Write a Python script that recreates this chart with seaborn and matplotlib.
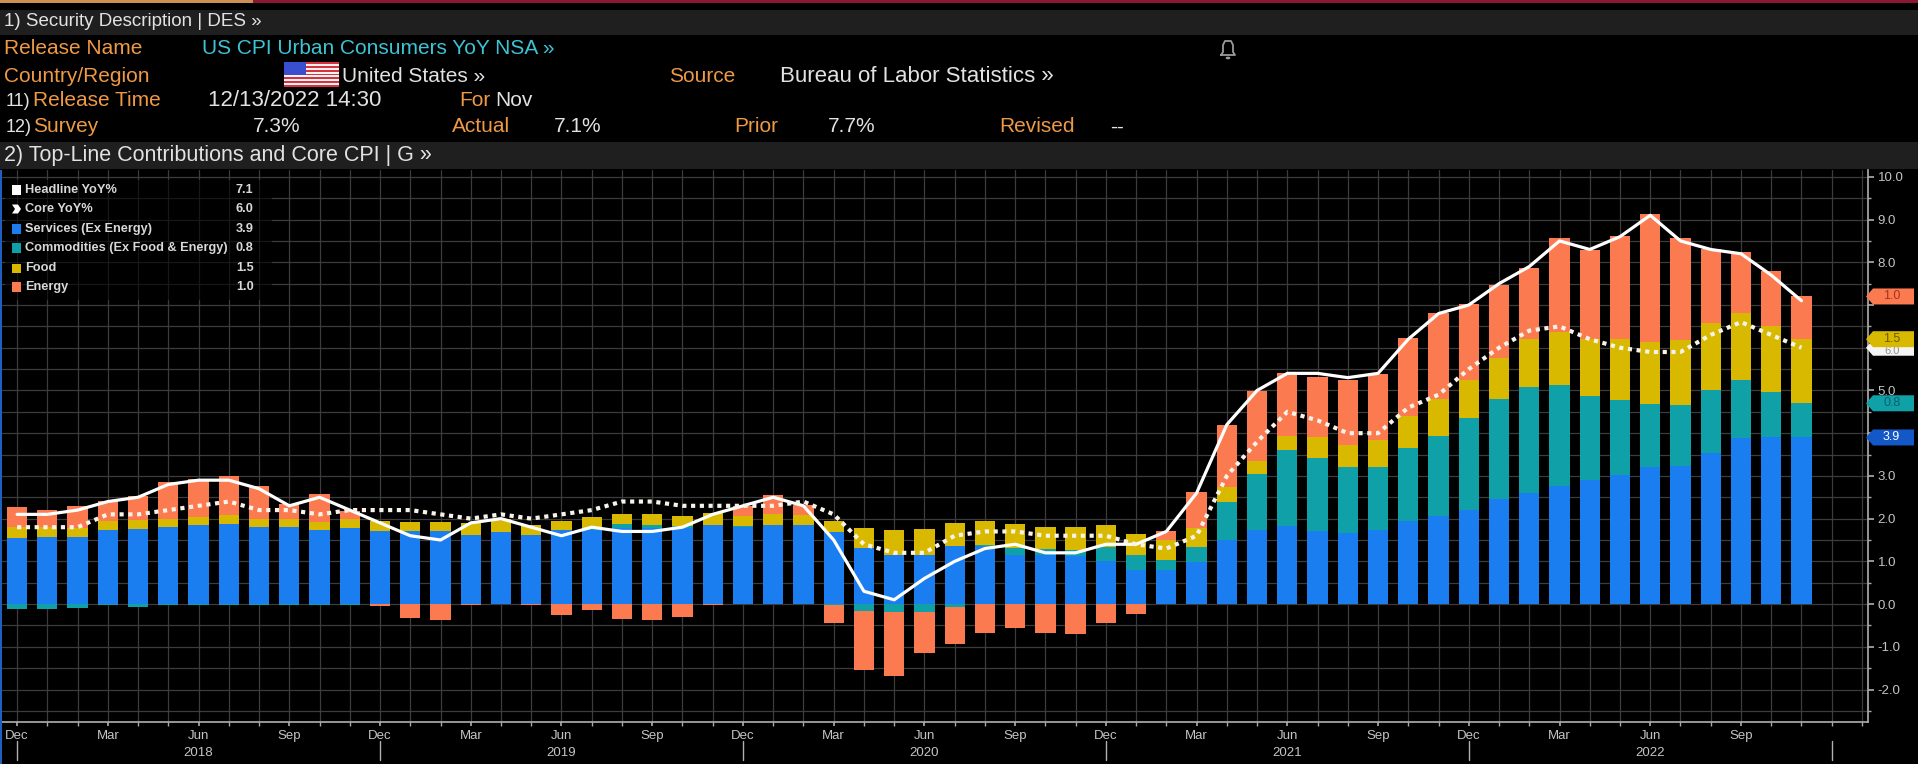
import numpy as np
import pandas as pd
import matplotlib.pyplot as plt
import seaborn as sns
from matplotlib.patches import Rectangle, Polygon, Circle
from matplotlib.lines import Line2D
from matplotlib.ticker import MultipleLocator, FixedLocator, FuncFormatter

W, H = 1918, 764

MONTHS = pd.date_range("2017-12-01", "2022-11-01", freq="MS")

# contributions to headline CPI YoY (pp)
SERVICES = [1.55, 1.57, 1.57, 1.73, 1.76, 1.80, 1.84, 1.88, 1.80, 1.80, 1.73, 1.78,
            1.70, 1.72, 1.72, 1.62, 1.68, 1.61, 1.73, 1.74, 1.78, 1.78, 1.78, 1.84,
            1.80, 1.84, 1.86, 1.68, 1.31, 1.16, 1.16, 1.35, 1.37, 1.16, 1.16, 1.12,
            1.00, 0.80, 0.80, 0.99, 1.50, 1.73, 1.83, 1.72, 1.66, 1.73, 1.95, 2.05,
            2.20, 2.45, 2.59, 2.77, 2.91, 3.02, 3.22, 3.23, 3.53, 3.88, 3.90, 3.90]
COMMODITIES = [-0.11, -0.11, -0.09, -0.02, -0.06, -0.03, -0.03, -0.02, -0.03, -0.03, -0.02, -0.01,
               0.00, 0.00, 0.00, 0.00, 0.00, 0.00, 0.00, 0.03, 0.10, 0.08, 0.05, 0.02,
               0.02, 0.00, 0.00, -0.02, -0.16, -0.18, -0.19, -0.08, 0.02, 0.16, 0.12, 0.15,
               0.34, 0.35, 0.23, 0.35, 0.88, 1.31, 1.77, 1.70, 1.56, 1.48, 1.70, 1.89,
               2.15, 2.34, 2.49, 2.35, 1.97, 1.76, 1.47, 1.43, 1.47, 1.37, 1.07, 0.80]
FOOD = [0.25, 0.23, 0.21, 0.21, 0.20, 0.20, 0.20, 0.21, 0.20, 0.20, 0.19, 0.20,
        0.25, 0.21, 0.21, 0.27, 0.27, 0.25, 0.22, 0.26, 0.22, 0.25, 0.22, 0.28,
        0.23, 0.26, 0.23, 0.26, 0.47, 0.57, 0.60, 0.55, 0.55, 0.56, 0.53, 0.53,
        0.50, 0.50, 0.47, 0.45, 0.36, 0.31, 0.33, 0.50, 0.50, 0.64, 0.76, 0.86,
        0.90, 0.98, 1.12, 1.24, 1.33, 1.42, 1.44, 1.52, 1.58, 1.56, 1.54, 1.50]
ENERGY = [0.47, 0.40, 0.52, 0.48, 0.57, 0.85, 0.89, 0.90, 0.76, 0.34, 0.65, 0.20,
          -0.04, -0.33, -0.37, -0.03, 0.05, -0.03, -0.25, -0.15, -0.35, -0.37, -0.30, -0.03,
          0.25, 0.45, 0.23, -0.43, -1.38, -1.50, -0.96, -0.86, -0.67, -0.55, -0.67, -0.70,
          -0.45, -0.23, 0.20, 0.84, 1.44, 1.64, 1.47, 1.40, 1.52, 1.53, 1.82, 2.02,
          1.78, 1.70, 1.66, 2.21, 2.08, 2.42, 2.99, 2.38, 1.72, 1.43, 1.29, 1.00]
HEADLINE = [2.1, 2.1, 2.2, 2.4, 2.5, 2.8, 2.9, 2.9, 2.7, 2.3, 2.5, 2.2,
            1.9, 1.6, 1.5, 1.9, 2.0, 1.8, 1.6, 1.8, 1.7, 1.7, 1.8, 2.1,
            2.3, 2.5, 2.3, 1.5, 0.3, 0.1, 0.6, 1.0, 1.3, 1.4, 1.2, 1.2,
            1.4, 1.4, 1.7, 2.6, 4.2, 5.0, 5.4, 5.4, 5.3, 5.4, 6.2, 6.8,
            7.0, 7.5, 7.9, 8.5, 8.3, 8.6, 9.1, 8.5, 8.3, 8.2, 7.7, 7.1]
CORE = [1.8, 1.8, 1.8, 2.1, 2.1, 2.2, 2.3, 2.4, 2.2, 2.2, 2.1, 2.2,
        2.2, 2.2, 2.1, 2.0, 2.1, 2.0, 2.1, 2.2, 2.4, 2.4, 2.3, 2.3,
        2.3, 2.3, 2.4, 2.1, 1.4, 1.2, 1.2, 1.6, 1.7, 1.7, 1.6, 1.6,
        1.6, 1.4, 1.3, 1.6, 3.0, 3.8, 4.5, 4.3, 4.0, 4.0, 4.6, 4.9,
        5.5, 6.0, 6.4, 6.5, 6.2, 6.0, 5.9, 5.9, 6.3, 6.6, 6.3, 6.0]

LEGEND_NAMES = ["Headline YoY%", "Core YoY%", "Services (Ex Energy)",
                "Commodities (Ex Food & Energy)", "Food", "Energy"]
LEGEND_VALUES = ["7.1", "6.0", "3.9", "0.8", "1.5", "1.0"]

BLUE = "#1a7ef0"
TEAL = "#10a0a8"
YELLOW = "#d8b900"
ORANGE = "#fb7a50"
AMBER = "#ee9a45"
CYAN = "#3cc3d4"
LIGHT = "#e2e2e2"
AXTXT = "#c4c4c4"
GRID = "#3c3c3c"

sns.set_theme(style="dark", rc={
    "figure.facecolor": "black",
    "axes.facecolor": "black",
    "axes.edgecolor": "#b0b0b0",
    "axes.axisbelow": True,
})
plt.rcParams["font.family"] = ["Liberation Sans", "DejaVu Sans"]

fig = plt.figure(figsize=(W / 100, H / 100), dpi=100)
fig.patch.set_facecolor("black")


def box(x0, y0, x1, y1, color, **kw):
    fig.add_artist(Rectangle((x0 / W, 1 - y1 / H), (x1 - x0) / W, (y1 - y0) / H,
                             transform=fig.transFigure, facecolor=color,
                             edgecolor="none", **kw))


def label(x, y, s, color=LIGHT, size=15, **kw):
    fig.text(x / W, 1 - y / H, s, color=color, fontsize=size, va="center", **kw)


# ---- Bloomberg-style header ----
box(0, 0, 253, 3, "#cf8e52")
box(253, 0, W, 3, "#8c1730")
box(0, 10, W, 35, "#1f1f1f")
box(0, 142, W, 169, "#1f1f1f")
label(4, 22, "1) Security Description | DES »", size=13.5)
label(4, 155, "2) Top-Line Contributions and Core CPI | G »", size=15.5)

label(4, 49, "Release Name", AMBER)
label(202, 49, "US CPI Urban Consumers YoY NSA »", CYAN)
label(4, 76, "Country/Region", AMBER)
label(342, 76, "United States »")
label(669, 76, "Source", AMBER)
label(780, 76, "Bureau of Labor Statistics »", size=16)
label(6, 101, "11)", size=13)
label(33, 101, "Release Time", AMBER)
label(208, 101, "12/13/2022 14:30", size=16)
label(459, 101, "For", AMBER)
label(495, 101, "Nov")
label(6, 127, "12)", size=13)
label(33, 127, "Survey", AMBER)
label(253, 127, "7.3%")
label(452, 127, "Actual", AMBER)
label(554, 127, "7.1%")
label(734, 127, "Prior", AMBER)
label(828, 127, "7.7%")
label(999, 127, "Revised", AMBER)
label(1110, 127, "--")

# US flag
for k in range(13):
    y0 = 62 + k * 25 / 13
    box(284, y0, 339, y0 + 25 / 13, "#d8303c" if k % 2 == 0 else "#f2f2f2")
box(284, 62, 306, 62 + 7 * 25 / 13, "#3a4fd0")

# bell icon
bell_x = np.array([1221, 1223, 1223, 1225, 1231, 1233, 1233, 1235, 1221]) / W
bell_y = 1 - np.array([55, 52, 45, 41, 41, 45, 52, 55, 55]) / H
fig.add_artist(Line2D(bell_x, bell_y, color="#9a9a9a", lw=1.3, transform=fig.transFigure))
fig.add_artist(Circle((1228 / W, 1 - 58 / H), 1.6 / W, color="#9a9a9a",
                      transform=fig.transFigure))

# left blue frame line
box(0, 170, 2, H, "#1f5fbf")

# ---- chart ----
ax = fig.add_axes([2 / W, 1 - 722 / H, 1866 / W, 552 / H])
ax.set_facecolor("black")

idx = np.arange(len(MONTHS))
df = pd.DataFrame({"idx": idx, "Services": SERVICES, "Commodities": COMMODITIES,
                   "Food": FOOD, "Energy": ENERGY, "Headline": HEADLINE, "Core": CORE})

pos_base = np.zeros(len(df))
neg_base = np.zeros(len(df))
for col, color in [("Services", BLUE), ("Commodities", TEAL), ("Food", YELLOW), ("Energy", ORANGE)]:
    vals = df[col].to_numpy()
    bottom = np.where(vals >= 0, pos_base, neg_base)
    sns.barplot(x=df["idx"], y=vals, bottom=bottom, native_scale=True, color=color,
                saturation=1, width=0.67, errorbar=None, linewidth=0, ax=ax)
    pos_base += np.clip(vals, 0, None)
    neg_base += np.clip(vals, None, 0)

sns.lineplot(x=df["idx"], y=df["Headline"], color="white", lw=2.3, ax=ax, zorder=4)
sns.lineplot(x=df["idx"], y=df["Core"], color="#f6f3ea", lw=3.0, ax=ax, zorder=4,
             linestyle=(0, (1.0, 1.1)))

ymin, ymax = -2.76, 10.16
ax.set_xlim(-0.5, 61.2)
ax.set_ylim(ymin, ymax)
ax.set_xlabel("")
ax.set_ylabel("")

# tick labels hidden under the value tags are left blank, as on the terminal
hidden = {4.0, 6.0, 7.0}
ax.xaxis.set_major_locator(FixedLocator(idx[::3]))
ax.xaxis.set_minor_locator(MultipleLocator(1))
ax.set_xticklabels([MONTHS[i].strftime("%b") for i in idx[::3]])
ax.yaxis.tick_right()
ax.yaxis.set_major_locator(MultipleLocator(1))
ax.yaxis.set_minor_locator(MultipleLocator(0.5))
ax.yaxis.set_major_formatter(FuncFormatter(
    lambda v, p: "" if round(v, 1) in hidden else f"{v:.1f}"))
ax.grid(True, which="both", color=GRID, lw=0.9)
ax.tick_params(axis="x", which="both", bottom=True, length=3, color="#a8a8a8",
               labelcolor=AXTXT, labelsize=9.5, pad=3)
ax.tick_params(axis="y", which="major", right=True, left=False, length=4, color="#a8a8a8",
               labelcolor=AXTXT, labelsize=9.5, pad=3)
ax.tick_params(axis="y", which="minor", right=True, left=False, length=2.5, color="#a8a8a8")
for side in ["top", "left"]:
    ax.spines[side].set_visible(False)
for side in ["bottom", "right"]:
    ax.spines[side].set_color("#b0b0b0")
    ax.spines[side].set_linewidth(1.2)

# year labels and separators under the month labels
xt = ax.get_xaxis_transform()
for i in idx[::12]:
    ax.plot([i, i], [-0.034, -0.069], transform=xt, clip_on=False, color="#b0b0b0", lw=1)
    ax.text(i + 6, -0.056, str(MONTHS[i].year + 1 if MONTHS[i].month == 12 else MONTHS[i].year),
            transform=xt, ha="center", va="center", color=AXTXT, fontsize=9.5)
ax.plot([60, 60], [-0.034, -0.069], transform=xt, clip_on=False, color="#b0b0b0", lw=1)

# value tags on the right axis for the latest month
px_unit = 552 / (ymax - ymin)
hh = 8.0 / px_unit
tip, bx0, bx1 = 1864 / 1866, 1871 / 1866, 1912 / 1866
last = len(df) - 1
svc, com, food = SERVICES[last], COMMODITIES[last], FOOD[last]
tags = [
    (CORE[last], LEGEND_VALUES[1], "#f4f4f4", "#909090", -3.5),
    (pos_base[last], LEGEND_VALUES[5], ORANGE, "#a8321c", 0),
    (svc + com + food, LEGEND_VALUES[4], YELLOW, "#6e5c00", 0),
    (svc + com, LEGEND_VALUES[3], TEAL, "#0a6268", 0),
    (svc, LEGEND_VALUES[2], "#1458c8", "white", 0),
]
yt = ax.get_yaxis_transform()
for k, (yv, txt, face, tc, dy) in enumerate(tags):
    z = 6 + k
    poly = Polygon([(tip, yv), (bx0, yv + hh), (bx1, yv + hh), (bx1, yv - hh), (bx0, yv - hh)],
                   closed=True, transform=yt, clip_on=False, facecolor=face,
                   edgecolor="none", zorder=z)
    ax.add_patch(poly)
    ax.text((bx0 + bx1) / 2 - 0.001, yv + dy / px_unit, txt, transform=yt, ha="center",
            va="center", color=tc, fontsize=9 if dy == 0 else 8, zorder=z + 0.5,
            clip_on=False)

# legend block (top-left, semi-transparent)
box(5, 180, 272, 300, "black", alpha=0.6, zorder=3)
rows = [190, 209, 229, 248, 268, 287]
marker_colors = ["white", "white", BLUE, TEAL, YELLOW, ORANGE]
for k, (name, val, mc) in enumerate(zip(LEGEND_NAMES, LEGEND_VALUES, marker_colors)):
    y = rows[k]
    if k == 1:
        pts = np.array([(12, y - 4.5), (18, y - 4.5), (21, y), (18, y + 4.5), (12, y + 4.5), (15, y)])
        fig.add_artist(Polygon(np.c_[pts[:, 0] / W, 1 - pts[:, 1] / H], closed=True,
                               transform=fig.transFigure, facecolor=mc, edgecolor="none", zorder=4))
    else:
        box(12, y - 4.5, 21, y + 4.5, mc, zorder=4)
    fig.text(25 / W, 1 - y / H, name, color="#d8d8d8", fontsize=9.2, fontweight="bold",
             va="center", zorder=4)
    fig.text(236 / W, 1 - y / H, val, color="#d8d8d8", fontsize=9.2, fontweight="bold",
             va="center", zorder=4)

fig.savefig("out.png", dpi=100, facecolor="black")
